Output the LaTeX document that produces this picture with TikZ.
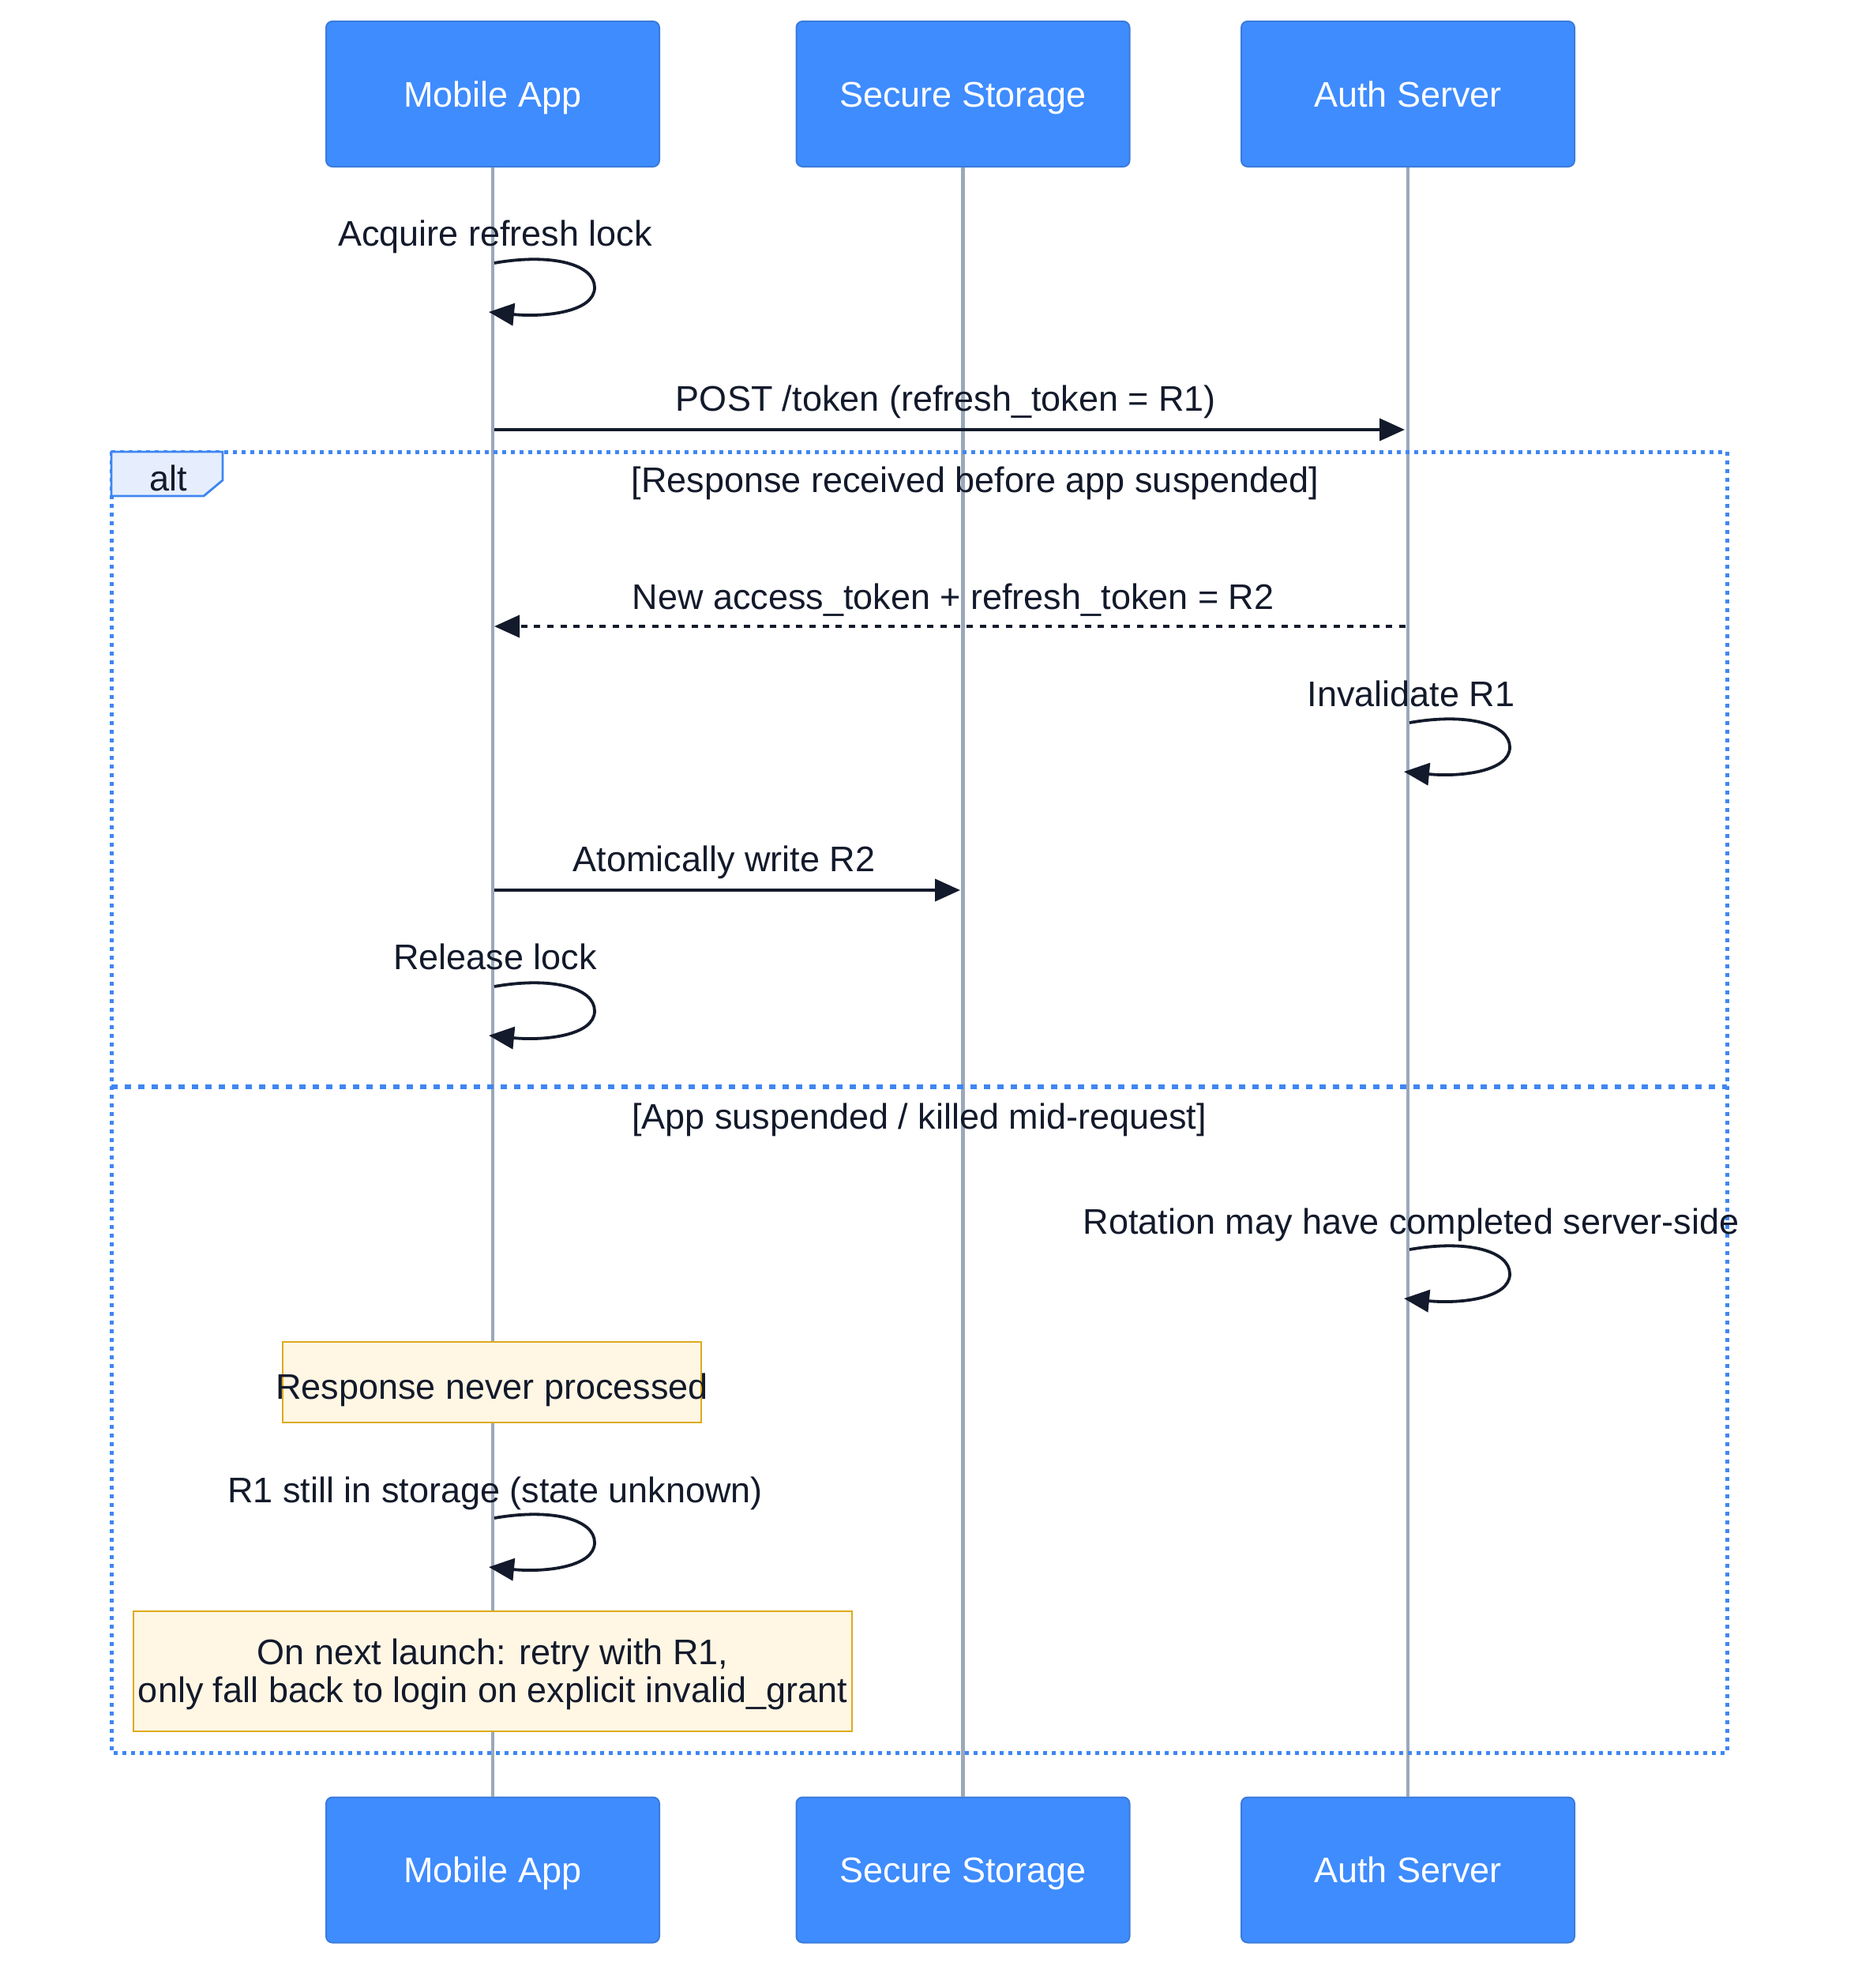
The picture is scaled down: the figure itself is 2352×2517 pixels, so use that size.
\documentclass[tikz,border=0pt]{standalone}
\usepackage{fontspec}
\setmainfont{Liberation Sans}
\usetikzlibrary{arrows.meta}
\definecolor{actorfill}{HTML}{3F8CFF}
\definecolor{actorline}{HTML}{3A7BDB}
\definecolor{lifeline}{HTML}{9AA8BA}
\definecolor{ink}{HTML}{131A2B}
\definecolor{altline}{HTML}{3F86F2}
\definecolor{altfill}{HTML}{E6EEFD}
\definecolor{notefill}{HTML}{FFF6E4}
\definecolor{noteline}{HTML}{DDAA1C}
\newcommand{\myfont}{\fontsize{22.5}{24}\selectfont}
\newcommand{\selfloop}[3]{%
  \coordinate (#3s) at (#1+3,#2);
  \coordinate (#3e) at (#1-4,#2+62);
  \draw[call] (#3s) .. controls (#1+77,#2-13) and (#1+130,#2+2) .. (#1+130,#2+31)
     .. controls (#1+130,#2+62) and (#1+67,#2+69) .. (#3e);}
\begin{document}
\begin{tikzpicture}[x=0.5pt,y=-0.5pt,
  actor/.style={draw=actorline, line width=1pt, fill=actorfill, rounded corners=4pt,
    minimum width=211pt, minimum height=92pt, text=white, font=\myfont, inner sep=0pt,
    text height=16pt, text depth=0pt},
  life/.style={draw=lifeline, line width=2.4pt},
  msg/.style={font=\myfont, text=ink, inner sep=0pt, text height=16pt, text depth=0pt},
  call/.style={draw=ink, line width=1.9pt, -{Triangle[length=16pt,width=14pt]}},
  reply/.style={call, dash pattern=on 4pt off 4.3pt},
  notebox/.style={draw=noteline, line width=1.4pt, fill=notefill, inner sep=0pt},
  frame/.style={draw=altline, line width=2.5pt, dash pattern=on 2.5pt off 3pt},
  divider/.style={draw=altline, line width=2.6pt, dash pattern=on 4pt off 4.5pt}
]
\useasboundingbox[fill=white] (0,0) rectangle (2352,2517);

% actors
\node[actor] (mt) at (624,119) {Mobile App};
\node[actor] (st) at (1219.5,119) {Secure Storage};
\node[actor] (at) at (1783,119) {Auth Server};
\node[actor] (mb) at (624,2367.5) {Mobile App};
\node[actor] (sb) at (1219.5,2367.5) {Secure Storage};
\node[actor] (ab) at (1783,2367.5) {Auth Server};

% lifelines
\draw[life] (mt.south) -- (mb.north);
\draw[life] (st.south) -- (sb.north);
\draw[life] (at.south) -- (ab.north);

% alt frame
\draw[frame] (141,572) rectangle (2187,2219);
\draw[divider] (141,1376) -- (2187,1376);
\path[fill=altfill, draw=altline, line width=1.4pt] (141,572) -- (282,572) -- (282,608) -- (258,628) -- (141,628) -- cycle;
\node[msg] (altlbl) at (213,605) {alt};
\node[msg] (cond1) at (1235,607) {[Response received before app suspended]};
\node[msg] (cond2) at (1164,1413) {[App suspended / killed mid-request]};

% notes
\node[notebox, minimum width=265pt, minimum height=51pt] (n1) at (623,1750) {};
\node[msg] (n1t) at (623,1755) {Response never processed};
\node[notebox, minimum width=455pt, minimum height=76pt] (n2) at (624,2116) {};
\node[font=\myfont, text=ink, align=center, inner sep=0pt] (n2t) at (624,2120) {On next launch: retry with R1,\\only fall back to login on explicit invalid\_grant};

% messages
\node[msg] (t1) at (627,295) {Acquire refresh lock};
\selfloop{623}{333}{l1}

\node[msg] (t2) at (1198,504) {POST /token (refresh\_token = R1)};
\coordinate (p2a) at (626,544);
\coordinate (p2b) at (1779,544);
\draw[call] (p2a) -- (p2b);

\node[msg] (t3) at (1207,755) {New access\_token + refresh\_token = R2};
\coordinate (p3a) at (1780,793);
\coordinate (p3b) at (626,793);
\draw[reply] (p3a) -- (p3b);

\node[msg] (t4) at (1787,878) {Invalidate R1};
\selfloop{1782}{915}{l2}

\node[msg] (t5) at (917,1087) {Atomically write R2};
\coordinate (p5a) at (626,1127);
\coordinate (p5b) at (1216,1127);
\draw[call] (p5a) -- (p5b);

\node[msg] (t6) at (627,1211) {Release lock};
\selfloop{623}{1249}{l3}

\node[msg] (t7) at (1787,1546) {Rotation may have completed server-side};
\selfloop{1782}{1582}{l4}

\node[msg] (t8) at (627,1886) {R1 still in storage (state unknown)};
\selfloop{623}{1922}{l5}
\end{tikzpicture}
\end{document}
